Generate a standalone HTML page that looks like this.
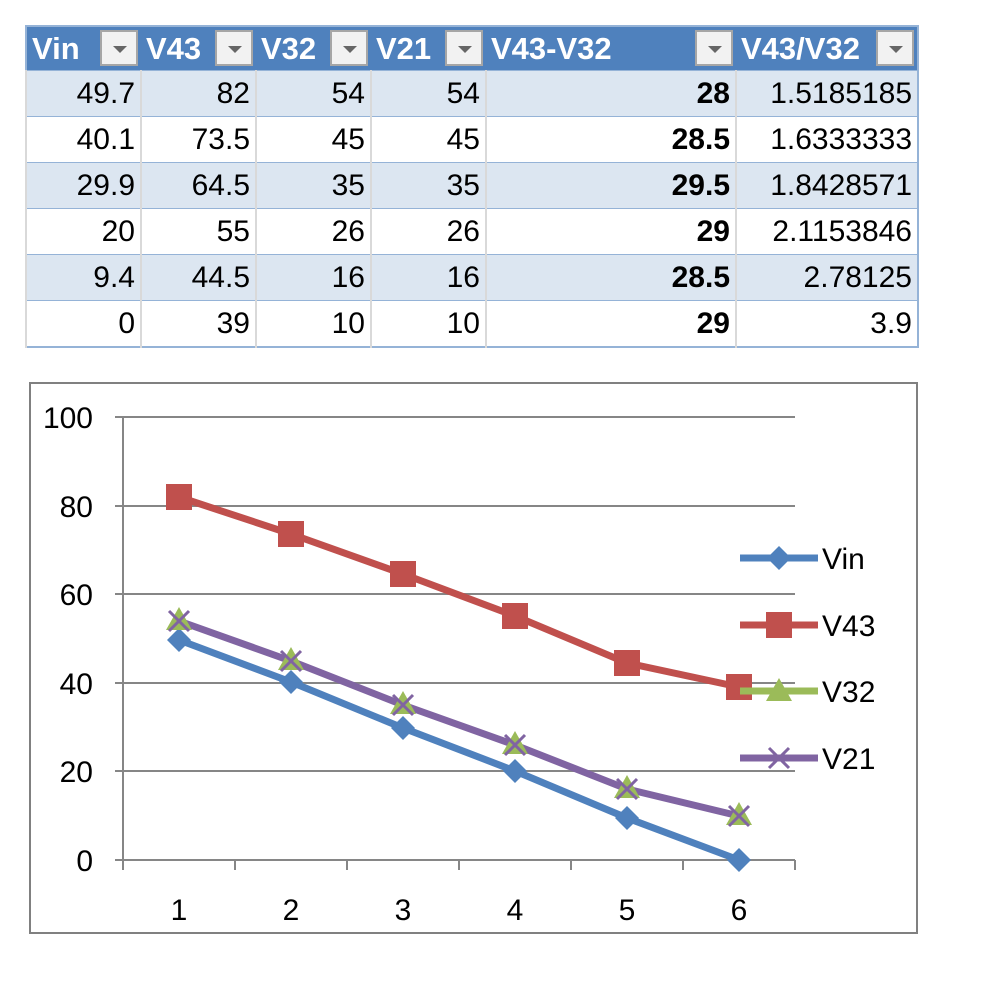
<!DOCTYPE html><html><head><style>
body{margin:0;width:987px;height:999px;background:#fff;font-family:"Liberation Sans",sans-serif;position:relative;overflow:hidden}
table{position:absolute;left:25px;top:25px;border-collapse:collapse;border:2px solid #95b3d7;font-size:30px;table-layout:fixed}
td{height:45px;padding:0 5px;text-align:right;border-left:2px solid #d9d9d9;border-top:1px solid #95b3d7;border-bottom:1px solid #95b3d7;white-space:nowrap;overflow:visible}
tr.h td{background:#4f81bd;color:#fff;font-weight:bold;text-align:left;height:43px;border-left:none;position:relative;font-size:31px}
tr.a td{background:#dce6f1}
.dd{position:absolute;right:3px;top:3px;width:38px;height:36px;background:#f2f2f2;border:2px solid #a6a6a6;box-sizing:border-box}
.dd:after{content:"";position:absolute;left:11px;top:14px;border-left:7px solid transparent;border-right:7px solid transparent;border-top:7px solid #666}
b{font-weight:bold}
</style></head><body>
<table>
<tr class="h"><td style="width:104px">Vin<span class="dd"></span></td><td style="width:105px">V43<span class="dd"></span></td><td style="width:105px">V32<span class="dd"></span></td><td style="width:105px">V21<span class="dd"></span></td><td style="width:240px">V43-V32<span class="dd"></span></td><td style="width:171px">V43/V32<span class="dd"></span></td></tr>
<tr class="a"><td>49.7</td><td>82</td><td>54</td><td>54</td><td><b>28</b></td><td>1.5185185</td></tr>
<tr><td>40.1</td><td>73.5</td><td>45</td><td>45</td><td><b>28.5</b></td><td>1.6333333</td></tr>
<tr class="a"><td>29.9</td><td>64.5</td><td>35</td><td>35</td><td><b>29.5</b></td><td>1.8428571</td></tr>
<tr><td>20</td><td>55</td><td>26</td><td>26</td><td><b>29</b></td><td>2.1153846</td></tr>
<tr class="a"><td>9.4</td><td>44.5</td><td>16</td><td>16</td><td><b>28.5</b></td><td>2.78125</td></tr>
<tr><td>0</td><td>39</td><td>10</td><td>10</td><td><b>29</b></td><td>3.9</td></tr>
</table>
<svg style="position:absolute;left:0;top:0" width="987" height="999" font-family="Liberation Sans, sans-serif" font-size="30">
<rect x="30" y="383" width="887" height="550" fill="#fff" stroke="#808080" stroke-width="2"/>
<g stroke="#868686" stroke-width="2">
<line x1="115" y1="417" x2="795" y2="417"/><line x1="115" y1="506" x2="795" y2="506"/><line x1="115" y1="594" x2="795" y2="594"/><line x1="115" y1="683" x2="795" y2="683"/><line x1="115" y1="771" x2="795" y2="771"/><line x1="115" y1="860" x2="795" y2="860"/>
<line x1="123" y1="417" x2="123" y2="860"/>
<line x1="123" y1="860" x2="123" y2="870"/><line x1="235" y1="860" x2="235" y2="870"/><line x1="347" y1="860" x2="347" y2="870"/><line x1="459" y1="860" x2="459" y2="870"/><line x1="571" y1="860" x2="571" y2="870"/><line x1="683" y1="860" x2="683" y2="870"/><line x1="795" y1="860" x2="795" y2="870"/>
</g>
<g text-anchor="end"><text x="93" y="428">100</text><text x="93" y="517">80</text><text x="93" y="605">60</text><text x="93" y="694">40</text><text x="93" y="782">20</text><text x="93" y="871">0</text></g>
<g text-anchor="middle"><text x="179" y="920">1</text><text x="291" y="920">2</text><text x="403" y="920">3</text><text x="515" y="920">4</text><text x="627" y="920">5</text><text x="739" y="920">6</text></g>
<g fill="none" stroke-width="7" stroke-linejoin="round">
<polyline stroke="#4f81bd" points="179,640 291,682 403,728 515,771 627,818 739,860"/>
<polyline stroke="#c0504d" points="179,497 291,534 403,574 515,616 627,663 739,687"/>
<polyline stroke="#8064a2" points="179,621 291,661 403,705 515,745 627,789 739,816"/>
</g>
<g fill="#4f81bd"><path d="M179 628l12 12-12 12-12-12z"/><path d="M291 670l12 12-12 12-12-12z"/><path d="M403 716l12 12-12 12-12-12z"/><path d="M515 759l12 12-12 12-12-12z"/><path d="M627 806l12 12-12 12-12-12z"/><path d="M739 848l12 12-12 12-12-12z"/></g>
<g fill="#c0504d"><rect x="166" y="484" width="26" height="26"/><rect x="278" y="521" width="26" height="26"/><rect x="390" y="561" width="26" height="26"/><rect x="502" y="603" width="26" height="26"/><rect x="614" y="650" width="26" height="26"/><rect x="726" y="674" width="26" height="26"/></g>
<g fill="#9bbb59"><path d="M179 607l13 23h-26z"/><path d="M291 647l13 23h-26z"/><path d="M403 691l13 23h-26z"/><path d="M515 731l13 23h-26z"/><path d="M627 775l13 23h-26z"/><path d="M739 802l13 23h-26z"/></g>
<g stroke="#8064a2" stroke-width="3"><path d="M169 611l20 20M189 611l-20 20"/><path d="M281 651l20 20M301 651l-20 20"/><path d="M393 695l20 20M413 695l-20 20"/><path d="M505 735l20 20M525 735l-20 20"/><path d="M617 779l20 20M637 779l-20 20"/><path d="M729 806l20 20M749 806l-20 20"/></g>
<g stroke-width="7"><line x1="740" y1="558" x2="818" y2="558" stroke="#4f81bd"/><line x1="740" y1="625" x2="818" y2="625" stroke="#c0504d"/><line x1="740" y1="691" x2="818" y2="691" stroke="#9bbb59"/><line x1="740" y1="758" x2="818" y2="758" stroke="#8064a2"/></g>
<path d="M779 546l12 12-12 12-12-12z" fill="#4f81bd"/><rect x="766" y="612" width="26" height="26" fill="#c0504d"/><path d="M779 678l13 23h-26z" fill="#9bbb59"/><path d="M769 748l20 20M789 748l-20 20" stroke="#8064a2" stroke-width="3"/>
<text x="822" y="569">Vin</text><text x="822" y="636">V43</text><text x="822" y="702">V32</text><text x="822" y="769">V21</text>
</svg>
</body></html>
